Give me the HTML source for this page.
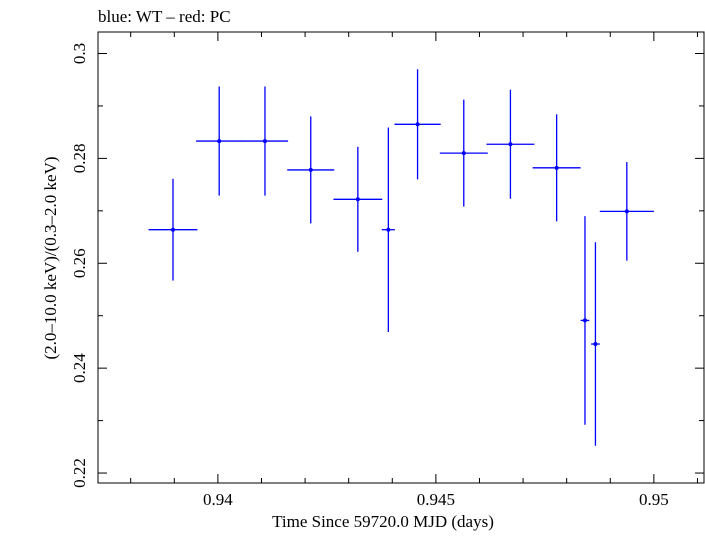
<!DOCTYPE html>
<html><head><meta charset="utf-8"><style>
html,body{margin:0;padding:0;background:#fff;}
svg text{font-family:"Liberation Serif",serif;fill:#000;}
</style></head><body>
<svg id="chart" width="705" height="532" viewBox="0 0 705 532" xmlns="http://www.w3.org/2000/svg">
<text x="98" y="22" font-size="17">blue: WT – red: PC</text>
<rect x="98" y="32" width="606" height="451" fill="none" stroke="#000" stroke-width="1"/>
<g id="ticks"></g>
<g id="marks"></g>
<text x="383" y="527" font-size="17" text-anchor="middle">Time Since 59720.0 MJD (days)</text>
<text transform="translate(56,258) rotate(-90)" font-size="17" text-anchor="middle">(2.0–10.0 keV)/(0.3–2.0 keV)</text>
</svg>
<script>
const times = [0.93897,0.94003,0.94108,0.94213,0.94321,0.94391,0.94458,0.94564,0.94671,0.94777,0.94842,0.94866,0.94938];
const timeErr = [0.00056,0.00053,0.00053,0.00054,0.00056,0.00015,0.00053,0.00055,0.00055,0.00055,0.0001,0.0001,0.00062];
const ratios = [0.2664,0.2833,0.2833,0.2778,0.2722,0.2664,0.2865,0.2810,0.2827,0.2782,0.2491,0.2446,0.2699];
const ratioErr = [0.0097,0.0104,0.0104,0.0102,0.0100,0.0195,0.0105,0.0102,0.0104,0.0102,0.0199,0.0194,0.0094];
const xTickLabels = ["0.94","0.945","0.95"];
const yTickLabels = ["0.22","0.24","0.26","0.28","0.3"];

const L=98,R=704,T=32,B=483;
const xMin=0.93725,xMax=0.95115,yMin=0.2181,yMax=0.3041;
const xs=v=>L+(v-xMin)/(xMax-xMin)*(R-L);
const ys=v=>B-(v-yMin)/(yMax-yMin)*(B-T);
const NS="http://www.w3.org/2000/svg";
function mk(tag,attrs,parent){const e=document.createElementNS(NS,tag);for(const k in attrs)e.setAttribute(k,attrs[k]);parent.appendChild(e);return e;}
const tg=document.getElementById('ticks');
for(let i=938;i<=951;i++){
  const v=i/1000,x=xs(v),major=(i%5===0),len=major?9:5;
  const t1=mk('line',{x1:x,x2:x,y1:B,y2:B-len,stroke:'#000'},tg);
  
  
  const t2=mk('line',{x1:x,x2:x,y1:T,y2:T+len,stroke:'#000'},tg);
  
  
}
xTickLabels.forEach(s=>{
  const t=mk('text',{x:xs(parseFloat(s)),y:505,'font-size':17,'text-anchor':'middle'},tg);
  t.textContent=s;
  
  
});
for(let i=22;i<=30;i++){
  const v=i/100,y=ys(v),major=(i%2===0),len=major?9:5;
  const t1=mk('line',{x1:L,x2:L+len,y1:y,y2:y,stroke:'#000'},tg);
  
  
  const t2=mk('line',{x1:R,x2:R-len,y1:y,y2:y,stroke:'#000'},tg);
  
  
}
yTickLabels.forEach(s=>{
  const y=ys(parseFloat(s));
  const t=mk('text',{transform:`translate(85,${y}) rotate(-90)`,'font-size':17,'text-anchor':'middle'},tg);
  t.textContent=s;
  
  
});
const mg=document.getElementById('marks');
times.forEach((t,i)=>{
  const g=mk('g',{},mg);
  
  
  const x=xs(t),y=ys(ratios[i]);
  mk('line',{x1:xs(t-timeErr[i]),x2:xs(t+timeErr[i]),y1:y,y2:y,stroke:'#0000ff','stroke-width':1.3},g);
  mk('line',{x1:x,x2:x,y1:ys(ratios[i]-ratioErr[i]),y2:ys(ratios[i]+ratioErr[i]),stroke:'#0000ff','stroke-width':1.3},g);
  mk('circle',{cx:x,cy:y,r:2,fill:'#0000ff'},g);
});
</script>
</body></html>
